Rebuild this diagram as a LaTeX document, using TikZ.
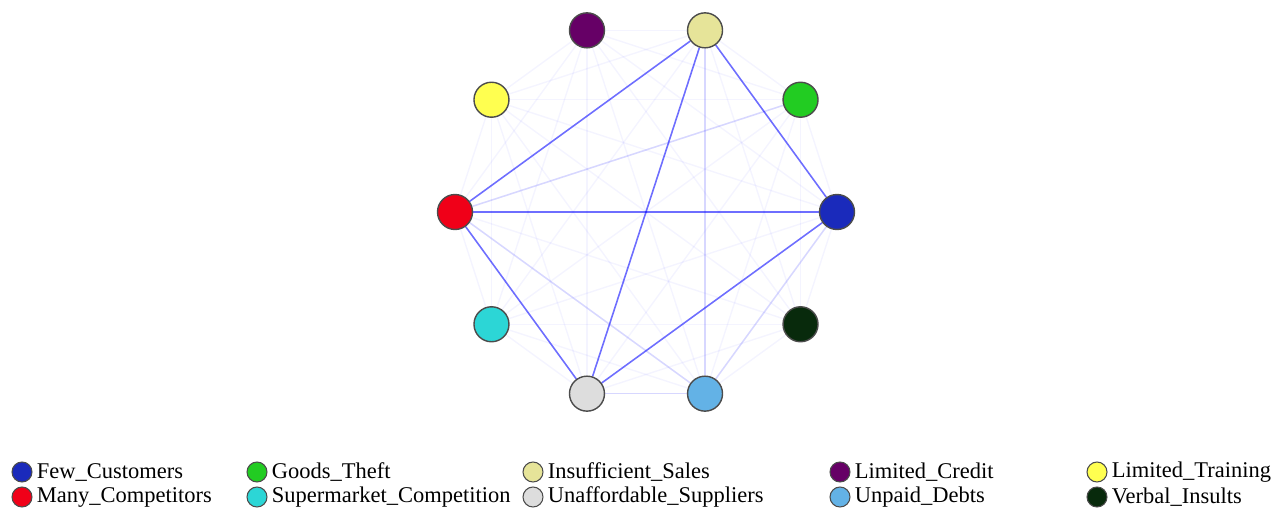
\documentclass[tikz,border=0pt]{standalone}
\usepackage{fontspec}
\setmainfont{Liberation Serif}
\usetikzlibrary{positioning}
\pgfdeclarelayer{bg}
\pgfsetlayers{bg,main}
\definecolor{fewcol}{RGB}{26,42,187}
\definecolor{theftcol}{RGB}{34,204,34}
\definecolor{salescol}{RGB}{230,228,153}
\definecolor{creditcol}{RGB}{102,0,102}
\definecolor{traincol}{RGB}{255,255,80}
\definecolor{compcol}{RGB}{240,0,24}
\definecolor{supercol}{RGB}{44,214,214}
\definecolor{supplcol}{RGB}{221,221,221}
\definecolor{debtcol}{RGB}{99,178,230}
\definecolor{insultcol}{RGB}{8,42,12}
\tikzset{
    %Define style for graph vertices
    vtx/.style={
           circle,
           draw=black!70,
           line width=0.8pt,
           minimum size=0.7cm,
           inner sep=0pt,},
    %Define style for legend keys
    key/.style={
           circle,
           draw=black!70,
           line width=0.6pt,
           minimum size=0.4cm,
           inner sep=0pt,},
    keytext/.style={
           inner sep=0pt,
           font=\fontsize{12.8}{13}\selectfont,},
    %Define styles for edges
    weak/.style={draw=blue, opacity=0.045, line width=0.8pt},
    mid/.style={draw=blue!60!white, opacity=0.2, line width=0.9pt},
    strong/.style={draw=blue, opacity=0.55, line width=0.9pt},
}

\begin{document}
\begin{tikzpicture}[x=0.02cm, y=0.02cm]
 \useasboundingbox (0,0) rectangle (1274,-510);
 %vertices on a circle
 \begin{scope}[shift={(646,-212)}]
  \foreach \name/\ang/\col in {fc/0/fewcol, gt/36/theftcol, is/72/salescol,
      lc/108/creditcol, lt/144/traincol, mc/180/compcol, sc/216/supercol,
      us/252/supplcol, ud/288/debtcol, vi/324/insultcol}
   \node[vtx, fill=\col] (\name) at (\ang:191) {};
 \end{scope}

 %edges
 \begin{pgfonlayer}{bg}
  \foreach \a [count=\i] in {fc,gt,is,lc,lt,mc,sc,us,ud,vi} {
   \foreach \b [count=\j] in {fc,gt,is,lc,lt,mc,sc,us,ud,vi} {
    \ifnum\j>\i \draw[weak] (\a) -- (\b); \fi
   }
  }
  \foreach \a/\b in {is/ud, us/ud, mc/ud, ud/fc, mc/gt}
   \draw[mid] (\a) -- (\b);
  \foreach \a/\b in {is/mc, is/us, is/fc, mc/fc, mc/us, us/fc}
   \draw[strong] (\a) -- (\b);
 \end{pgfonlayer}

 %legend
 \foreach \name/\x/\y/\col/\txt in {
     kfc/22/472/fewcol/Few\_Customers,
     kmc/22/497/compcol/Many\_Competitors,
     kgt/257/472/theftcol/Goods\_Theft,
     ksc/257/497/supercol/Supermarket\_Competition,
     kis/533/472/salescol/Insufficient\_Sales,
     kus/533/497/supplcol/Unaffordable\_Suppliers,
     klc/840/472/creditcol/Limited\_Credit,
     kud/840/497/debtcol/Unpaid\_Debts,
     klt/1097/472/traincol/Limited\_Training,
     kvi/1097/497/insultcol/Verbal\_Insults} {
  \node[key, fill=\col] (\name) at (\x,-\y) {};
  \node[keytext, right=0.08cm of \name] (\name-txt) {\txt};
 }

\end{tikzpicture}
\end{document}
